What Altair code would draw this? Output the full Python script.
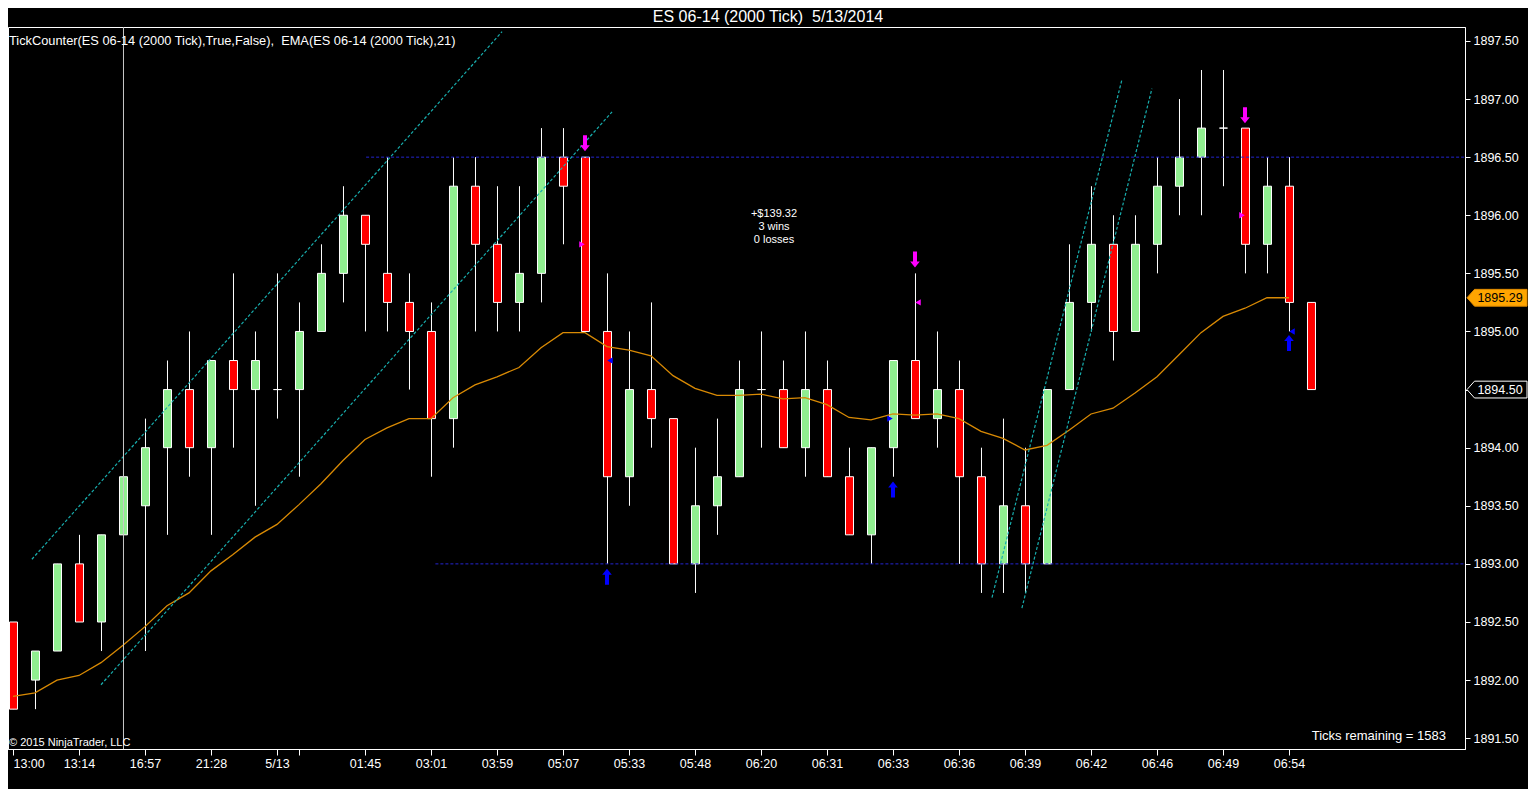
import json
import altair as alt
import pandas as pd

FONT = "Liberation Sans"

# ---------------- candle data (ES 06-14, 2000 tick bars) ----------------
bar_index = list(range(60))
opens = [1892.50, 1892.00, 1892.25, 1893.00, 1892.50, 1893.25, 1893.50, 1894.00, 1894.50, 1894.00,
         1894.75, 1894.50, 1894.50, 1894.50, 1895.00, 1895.50, 1896.00, 1895.50, 1895.25, 1895.00,
         1894.25, 1896.25, 1895.75, 1895.25, 1895.50, 1896.50, 1896.50, 1895.00, 1893.75, 1894.50,
         1894.25, 1893.00, 1893.50, 1893.75, 1894.50, 1894.50, 1894.00, 1894.50, 1893.75, 1893.25,
         1894.00, 1894.75, 1894.25, 1894.50, 1893.75, 1893.00, 1893.50, 1893.00, 1894.50, 1895.25,
         1895.75, 1895.00, 1895.75, 1896.25, 1896.50, 1896.75, 1896.75, 1895.75, 1896.25, 1895.25]
highs = [1892.50, 1892.25, 1893.00, 1893.25, 1893.25, 1894.00, 1894.25, 1894.75, 1895.00, 1894.75,
         1895.50, 1895.00, 1895.50, 1895.25, 1895.75, 1896.25, 1896.00, 1896.50, 1895.50, 1895.25,
         1896.50, 1896.50, 1896.25, 1896.25, 1896.75, 1896.75, 1896.50, 1895.50, 1895.00, 1895.25,
         1894.25, 1894.00, 1894.25, 1894.75, 1895.00, 1894.75, 1895.00, 1894.75, 1894.00, 1894.00,
         1894.75, 1895.50, 1895.00, 1894.75, 1894.00, 1894.25, 1894.00, 1894.50, 1895.75, 1896.25,
         1896.00, 1896.00, 1896.50, 1897.00, 1897.25, 1897.25, 1896.75, 1896.50, 1896.50, 1895.25]
lows = [1891.75, 1891.75, 1892.25, 1892.50, 1892.25, 1893.25, 1892.25, 1893.25, 1893.75, 1893.25,
        1894.00, 1893.50, 1894.25, 1893.75, 1895.00, 1895.25, 1895.00, 1895.00, 1894.50, 1893.75,
        1894.00, 1895.00, 1895.00, 1895.00, 1895.25, 1895.75, 1895.00, 1893.00, 1893.50, 1894.00,
        1893.00, 1892.75, 1893.25, 1893.75, 1894.00, 1894.00, 1893.75, 1893.75, 1893.25, 1893.00,
        1893.75, 1894.25, 1894.00, 1893.00, 1892.75, 1892.75, 1892.75, 1893.00, 1894.50, 1895.00,
        1894.75, 1895.00, 1895.50, 1896.00, 1896.00, 1896.25, 1895.50, 1895.50, 1895.00, 1894.50]
closes = [1891.75, 1892.25, 1893.00, 1892.50, 1893.25, 1893.75, 1894.00, 1894.50, 1894.00, 1894.75,
          1894.50, 1894.75, 1894.50, 1895.00, 1895.50, 1896.00, 1895.75, 1895.25, 1895.00, 1894.25,
          1896.25, 1895.75, 1895.25, 1895.50, 1896.50, 1896.25, 1895.00, 1893.75, 1894.50, 1894.25,
          1893.00, 1893.50, 1893.75, 1894.50, 1894.50, 1894.00, 1894.50, 1893.75, 1893.25, 1894.00,
          1894.75, 1894.25, 1894.50, 1893.75, 1893.00, 1893.50, 1893.00, 1894.50, 1895.25, 1895.75,
          1895.00, 1895.75, 1896.25, 1896.50, 1896.75, 1896.75, 1895.75, 1896.25, 1895.25, 1894.50]

# EMA(21) values, bars 0..58
ema21 = [1891.86, 1891.89, 1892.00, 1892.04, 1892.15, 1892.30, 1892.46, 1892.64, 1892.75, 1892.94,
         1893.08, 1893.23, 1893.34, 1893.51, 1893.69, 1893.89, 1894.07, 1894.17, 1894.25, 1894.25,
         1894.43, 1894.54, 1894.61, 1894.69, 1894.86, 1894.99, 1894.99, 1894.87, 1894.84, 1894.79,
         1894.62, 1894.51, 1894.45, 1894.45, 1894.46, 1894.42, 1894.43, 1894.37, 1894.26, 1894.24,
         1894.29, 1894.28, 1894.29, 1894.25, 1894.14, 1894.08, 1893.98, 1894.02, 1894.15, 1894.29,
         1894.34, 1894.47, 1894.61, 1894.80, 1894.99, 1895.13, 1895.20, 1895.29, 1895.29]

# axis ticks
x_tick_index = [0, 3, 6, 9, 12, 13, 16, 19, 22, 25, 28, 31, 34, 37, 40, 43, 46, 49, 52, 55, 58]
x_tick_label = ["13:00", "13:14", "16:57", "21:28", "5/13", "", "01:45", "03:01", "03:59", "05:07",
                "05:33", "05:48", "06:20", "06:31", "06:33", "06:36", "06:39", "06:42", "06:46",
                "06:49", "06:54"]
y_tick_values = [1891.5, 1892.0, 1892.5, 1893.0, 1893.5, 1894.0, 1894.5, 1895.0, 1895.5,
                 1896.0, 1896.5, 1897.0, 1897.5]

# drawing objects
session_break = [5]
level_price = [1896.50, 1893.00]
level_start = [16.05, 19.2]
level_end = [66.0, 66.0]
trend_x1 = [0.86, 4.0, 44.5, 45.86]
trend_y1 = [1893.04, 1891.96, 1892.71, 1892.62]
trend_x2 = [22.23, 27.23, 50.41, 51.77]
trend_y2 = [1897.58, 1896.89, 1897.17, 1897.09]

# strategy markers
long_arrow_bar = [27, 40, 58]
long_arrow_price = [1892.89, 1893.64, 1894.90]
short_arrow_bar = [26, 41, 56]
short_arrow_price = [1896.62, 1895.62, 1896.86]
long_fill_bar = [27, 40, 58]
long_fill_price = [1894.75, 1894.25, 1895.00]
long_fill_dir = ["left", "right", "left"]
short_fill_bar = [26, 41, 56]
short_fill_price = [1895.75, 1895.25, 1896.00]
short_fill_dir = ["right", "left", "right"]

pnl_lines = ["+$139.32", "3 wins", "0 losses"]
pnl_x = [34.59, 34.59, 34.59]
pnl_price = [1896.01, 1895.90, 1895.79]

chart_title = "ES 06-14 (2000 Tick)\u00a0 5/13/2014"
indicator_label = "TickCounter(ES 06-14 (2000 Tick),True,False),\u00a0 EMA(ES 06-14 (2000 Tick),21)"
copyright_label = "\u00a9 2015 NinjaTrader, LLC"
ticks_label = "Ticks remaining = 1583"
last_ema_label = ["1895.29"]
last_ema_price = [1895.29]
last_price_label = ["1894.50"]
last_price_value = [1894.50]

# ---------------- frames ----------------
bars = pd.DataFrame({"i": bar_index, "open": opens, "high": highs, "low": lows, "close": closes})
bars["dir"] = ["up" if c > o else ("down" if c < o else "flat") for o, c in zip(opens, closes)]
ema_df = pd.DataFrame({"i": bar_index[:len(ema21)], "ema": ema21})
session_df = pd.DataFrame({"i": session_break})
level_df = pd.DataFrame({"price": level_price, "start": level_start, "end": level_end})
trend_df = pd.DataFrame({"x1": trend_x1, "y1": trend_y1, "x2": trend_x2, "y2": trend_y2})
long_arrow_df = pd.DataFrame({"i": long_arrow_bar, "price": long_arrow_price})
short_arrow_df = pd.DataFrame({"i": short_arrow_bar, "price": short_arrow_price})
long_fill_df = pd.DataFrame({"i": long_fill_bar, "price": long_fill_price, "dir": long_fill_dir})
short_fill_df = pd.DataFrame({"i": short_fill_bar, "price": short_fill_price, "dir": short_fill_dir})
pnl_df = pd.DataFrame({"i": pnl_x, "price": pnl_price, "t": pnl_lines})

# ---------------- scales / axes ----------------
x_scale = alt.Scale(domain=[-0.227, 66.0], nice=False, zero=False, padding=0)
y_scale = alt.Scale(domain=[1891.407, 1897.62], nice=False, zero=False, padding=0)

label_arr = [""] * 60
for k, lab in zip(x_tick_index, x_tick_label):
    label_arr[k] = lab
label_expr = "[" + ",".join(json.dumps(s) for s in label_arr) + "][datum.value]"
hidden_y_label = last_price_value[0]  # covered by the last-price box
y_label_expr = f"datum.value == {hidden_y_label} ? '' : format(datum.value, '.2f')"

x_axis = alt.Axis(values=x_tick_index, labelExpr=label_expr, title=None, tickSize=6,
                  labelPadding=2, labelFlush=False, labelOverlap=False, grid=False,
                  labelAlign=alt.ExprRef(expr="datum.value == 0 ? 'left' : 'center'"),
                  domainColor="white", tickColor="white", labelColor="white",
                  labelFont=FONT, labelFontSize=12.5)
y_axis = alt.Axis(values=y_tick_values, labelExpr=y_label_expr, orient="right", title=None,
                  tickSize=5, labelPadding=3, labelOverlap=False, labelFlush=False, grid=False,
                  domainColor="white", tickColor="white", labelColor="white",
                  labelFont=FONT, labelFontSize=12.5)


def X(field):
    return alt.X(field, scale=x_scale, axis=x_axis)


def Y(field):
    return alt.Y(field, scale=y_scale, axis=y_axis)


DOWN_ARROW = "M-0.25,-1L0.25,-1L0.25,0.25L0.6,0.25L0,1L-0.6,0.25L-0.25,0.25Z"
UP_ARROW = "M-0.25,1L0.25,1L0.25,-0.25L0.6,-0.25L0,-1L-0.6,-0.25L-0.25,-0.25Z"
PRICE_BOX = "M-1,0L-0.75,-0.28L1,-0.28L1,0.28L-0.75,0.28Z"

# ---------------- layers ----------------
wicks = alt.Chart(bars).mark_rule(color="white", strokeWidth=1, xOffset=0.5).encode(
    x=X("i:Q"), y=Y("low:Q"), y2="high:Q")

bodies = alt.Chart(bars).mark_bar(size=8, stroke="white", strokeWidth=1, xOffset=0.5).encode(
    x=X("i:Q"), y=Y("open:Q"), y2="close:Q",
    color=alt.Color("dir:N", scale=alt.Scale(domain=["up", "down", "flat"],
                                             range=["#90EE90", "#FF0000", "#FFFFFF"]), legend=None),
)

ema_line = alt.Chart(ema_df).mark_line(color="#D98A04", strokeWidth=1.3).encode(
    x=X("i:Q"), y=Y("ema:Q"))

levels = alt.Chart(level_df).mark_rule(color="#2424D0", strokeDash=[3, 2], strokeWidth=1).encode(
    x=X("start:Q"), x2="end:Q", y=Y("price:Q"))

trends = alt.Chart(trend_df).mark_rule(color="#18AEAE", strokeDash=[3, 2], strokeWidth=1.2).encode(
    x=X("x1:Q"), y=Y("y1:Q"), x2="x2:Q", y2="y2:Q")

session = alt.Chart(session_df).mark_rule(color="#C8C8C8", strokeWidth=1, xOffset=0.5).encode(
    x=X("i:Q"))

long_arrows = alt.Chart(long_arrow_df).mark_point(shape=UP_ARROW, size=256, filled=True,
                                                  color="#0000FF", opacity=1).encode(
    x=X("i:Q"), y=Y("price:Q"))
short_arrows = alt.Chart(short_arrow_df).mark_point(shape=DOWN_ARROW, size=256, filled=True,
                                                    color="#FF00FF", opacity=1).encode(
    x=X("i:Q"), y=Y("price:Q"))

fill_layers = []
for fdf, col in ((long_fill_df, "#0000FF"), (short_fill_df, "#FF00FF")):
    for d, shp, off in (("right", "triangle-right", -3), ("left", "triangle-left", 3)):
        fill_layers.append(
            alt.Chart(fdf).transform_filter(alt.datum.dir == d).mark_point(
                shape=shp, size=40, filled=True, opacity=1, color=col, xOffset=off).encode(
                x=X("i:Q"), y=Y("price:Q")))

pnl = alt.Chart(pnl_df).mark_text(color="white", font=FONT, fontSize=11).encode(
    x=X("i:Q"), y=Y("price:Q"), text="t:N")

one = pd.DataFrame({"k": [0]})
title_txt = alt.Chart(one).mark_text(color="white", font=FONT, fontSize=16, align="center",
                                     baseline="top").encode(
    x=alt.value(760), y=alt.value(-18), text=alt.value(chart_title))
ind_txt = alt.Chart(one).mark_text(color="white", font=FONT, fontSize=12.8, align="left",
                                   baseline="middle").encode(
    x=alt.value(1), y=alt.value(14), text=alt.value(indicator_label))
copy_txt = alt.Chart(one).mark_text(color="white", font=FONT, fontSize=11, align="left",
                                    baseline="middle").encode(
    x=alt.value(1), y=alt.value(716), text=alt.value(copyright_label))
ticks_txt = alt.Chart(one).mark_text(color="white", font=FONT, fontSize=13, align="right",
                                     baseline="middle").encode(
    x=alt.value(1438), y=alt.value(709), text=alt.value(ticks_label))

ema_box_df = pd.DataFrame({"price": last_ema_price, "t": last_ema_label})
last_box_df = pd.DataFrame({"price": last_price_value, "t": last_price_label})

ema_box = alt.Chart(ema_box_df).mark_point(shape=PRICE_BOX, size=3600, filled=True, fill="#FFA500",
                                           stroke="#E08A00", strokeWidth=1, opacity=1).encode(
    x=alt.value(1489), y=Y("price:Q"))
ema_box_txt = alt.Chart(ema_box_df).mark_text(color="black", font=FONT, fontSize=12.5).encode(
    x=alt.value(1492), y=Y("price:Q"), text="t:N")
last_box = alt.Chart(last_box_df).mark_point(shape=PRICE_BOX, size=3600, filled=True, fill="black",
                                             stroke="white", strokeWidth=1, opacity=1).encode(
    x=alt.value(1489), y=Y("price:Q"))
last_box_txt = alt.Chart(last_box_df).mark_text(color="white", font=FONT, fontSize=12.5).encode(
    x=alt.value(1492), y=Y("price:Q"), text="t:N")

chart = alt.layer(
    wicks, bodies, ema_line, levels, trends, session,
    long_arrows, short_arrows, *fill_layers, pnl,
    title_txt, ind_txt, copy_txt, ticks_txt,
    ema_box, ema_box_txt, last_box, last_box_txt,
).properties(
    width=1457, height=722, background="black",
    padding={"left": 0, "top": 19, "right": 63, "bottom": 40},
    autosize=alt.AutoSizeParams(type="none"),
).configure_view(
    stroke="white", strokeWidth=1
).configure_axis(
    labelFont=FONT, labelFontSize=12.5, labelColor="white", grid=False
)

chart.save("out.html", embed_options={"renderer": "svg", "actions": False})
